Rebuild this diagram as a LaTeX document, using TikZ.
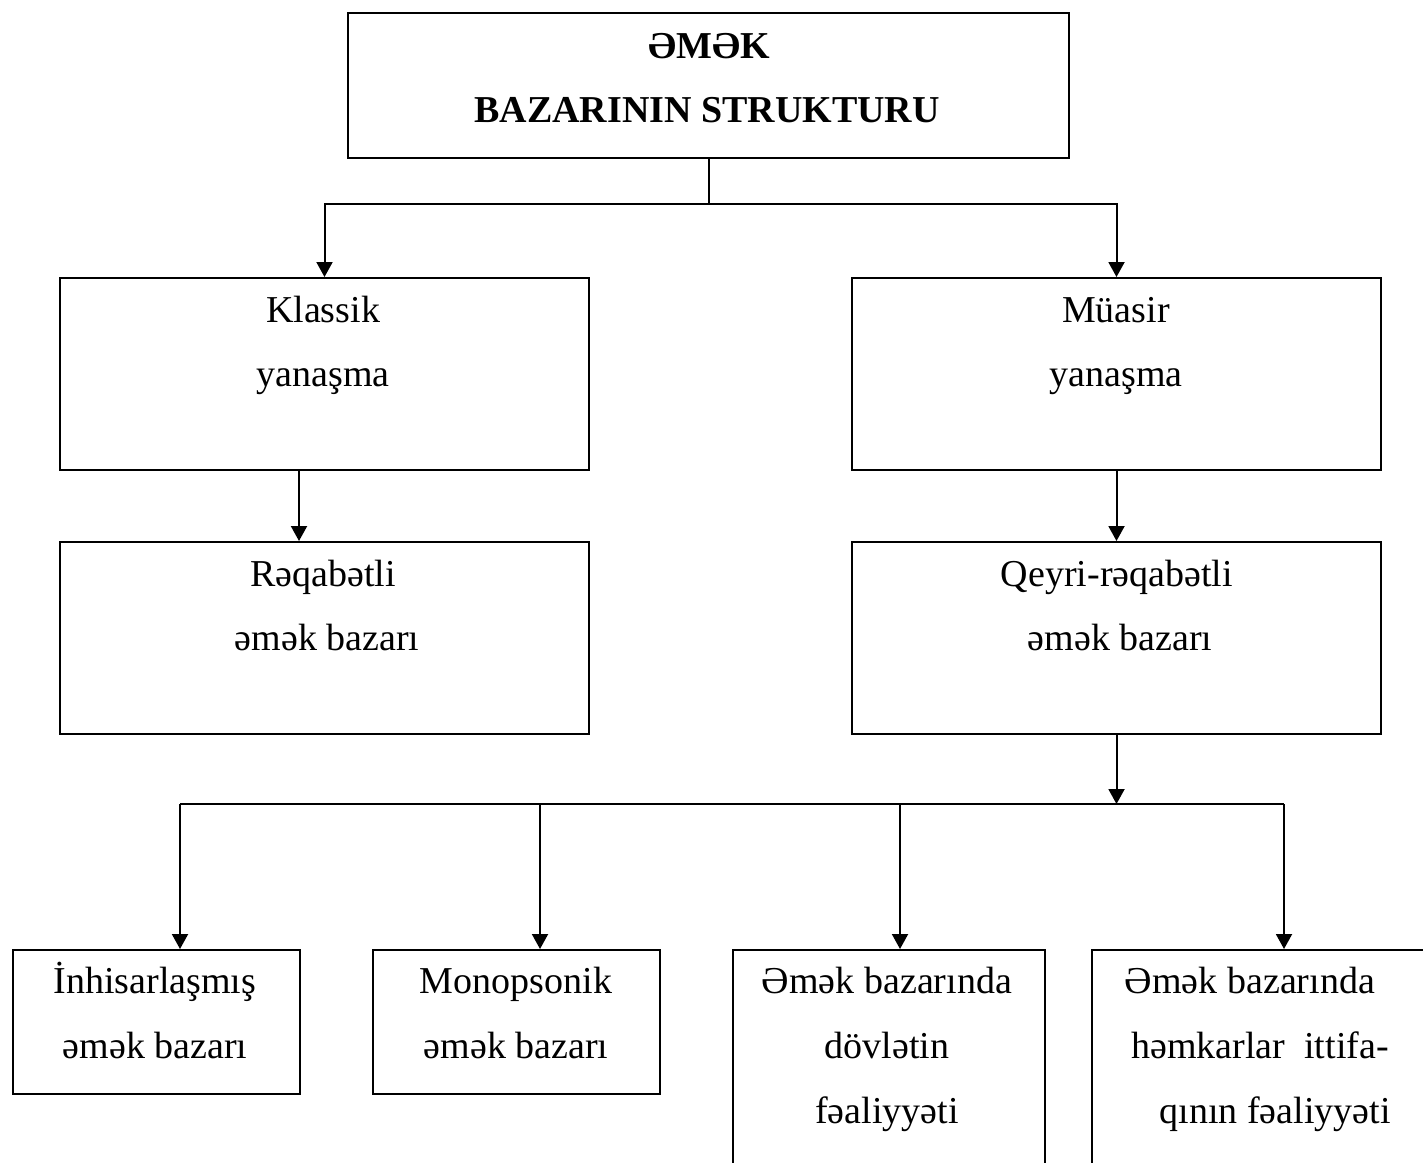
\documentclass[tikz,border=0pt]{standalone}
\usepackage{fontspec}
\setmainfont{Liberation Serif}
\usetikzlibrary{arrows.meta}
\begin{document}
\begin{tikzpicture}[x=0.5pt,y=-0.5pt,
  box/.style={draw,line width=1pt,rectangle,inner sep=0pt,anchor=north west},
  txt/.style={anchor=base,inner sep=0pt,font=\fontsize{19}{32}\selectfont},
  btxt/.style={txt,font=\fontsize{19}{32}\selectfont\bfseries},
  con/.style={line width=1pt},
  arr/.style={line width=1pt,-{Triangle[width=8pt,length=7.5pt]}}]
\useasboundingbox (0,0) rectangle (1423,1162);
\clip (0,0) rectangle (1423,1162);
% boxes
\node[box,minimum width=360.5pt,minimum height=72.5pt] (top) at (347,12) {};
\node[box,minimum width=264.5pt,minimum height=96pt] (kl) at (59,277) {};
\node[box,minimum width=264.5pt,minimum height=96pt] (mu) at (851,277) {};
\node[box,minimum width=264.5pt,minimum height=96pt] (rq) at (59,541) {};
\node[box,minimum width=264.5pt,minimum height=96pt] (qr) at (851,541) {};
\node[box,minimum width=143.5pt,minimum height=72pt] (b1) at (12,949) {};
\node[box,minimum width=143.5pt,minimum height=72pt] (b2) at (372,949) {};
\node[box,minimum width=156pt,minimum height=130pt] (b3) at (732,949) {};
\node[box,minimum width=193pt,minimum height=130pt] (b4) at (1091,949) {};
% texts
\node[btxt] (t1) at (709,58) {ƏMƏK};
\node[btxt] (t2) at (707,122) {BAZARININ STRUKTURU};
\node[txt] (k1) at (323,322) {Klassik};
\node[txt] (k2) at (323,386) {yanaşma};
\node[txt] (m1) at (1116,322) {Müasir};
\node[txt] (m2) at (1116,386) {yanaşma};
\node[txt] (r1) at (323,586) {Rəqabətli};
\node[txt] (r2) at (327,650) {əmək bazarı};
\node[txt] (q1) at (1117,586) {Qeyri-rəqabətli};
\node[txt] (q2) at (1120,650) {əmək bazarı};
\node[txt] (x1) at (155,993) {İnhisarlaşmış};
\node[txt] (x2) at (155,1058) {əmək bazarı};
\node[txt] (y1) at (516,993) {Monopsonik};
\node[txt] (y2) at (516,1058) {əmək bazarı};
\node[txt] (z1) at (887,993) {Əmək bazarında};
\node[txt] (z2) at (887,1058) {dövlətin};
\node[txt] (z3) at (887,1123) {fəaliyyəti};
\node[txt] (w1) at (1250,993) {Əmək bazarında};
\node[txt] (w2) at (1260,1058) {həmkarlar\ \ ittifa-};
\node[txt] (w3) at (1275,1123) {qının fəaliyyəti};
% connectors
\coordinate (j1) at (top.south |- 0,204);
\draw[con] (top.south) -- (j1);
\draw[arr] (j1) -| (kl.north);
\draw[arr] (j1) -| (mu.north);
\coordinate (a1) at (299,0);
\draw[arr] (kl.south -| a1) -- (rq.north -| a1);
\draw[arr] (mu.south) -- (qr.north);
\coordinate (j2) at (qr.south |- 0,804);
\draw[arr] (qr.south) -- (j2);
\coordinate (h1) at (180,804);
\coordinate (h2) at (540,804);
\coordinate (h3) at (900,804);
\coordinate (h4) at (1284,804);
\draw[con] (h1) -- (h4);
\draw[arr] (h1) -- (b1.north -| h1);
\draw[arr] (h2) -- (b2.north -| h2);
\draw[arr] (h3) -- (b3.north -| h3);
\draw[arr] (h4) -- (b4.north -| h4);
\end{tikzpicture}
\end{document}
